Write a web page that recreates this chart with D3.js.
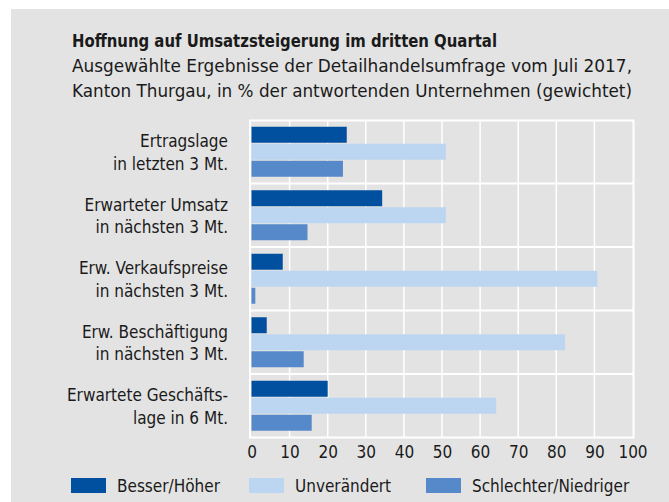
<!DOCTYPE html>
<html>
<head>
<meta charset="utf-8">
<script src="https://cdn.jsdelivr.net/npm/d3@7"></script>
<style>
  body { margin: 0; background: #fff; }
  svg text { font-family: "Liberation Sans Narrow", "DejaVu Sans Condensed", "Roboto Condensed", sans-serif; fill: #1a1a1a; }
</style>
</head>
<body>
<svg id="chart"></svg>
<script>
// data
var categories = [
  ["Ertragslage", "in letzten 3 Mt."],
  ["Erwarteter Umsatz", "in nächsten 3 Mt."],
  ["Erw. Verkaufspreise", "in nächsten 3 Mt."],
  ["Erw. Beschäftigung", "in nächsten 3 Mt."],
  ["Erwartete Geschäfts-", "lage in 6 Mt."]
];
var seriesNames = ["Besser/Höher", "Unverändert", "Schlechter/Niedriger"];
var besser = [25, 34.3, 8.2, 4.0, 20.0];
var unveraendert = [51, 51, 90.8, 82.3, 64.2];
var schlechter = [24, 14.7, 1.0, 13.7, 15.8];
var xTicks = [0, 10, 20, 30, 40, 50, 60, 70, 80, 90, 100];
var colors = ["#00509f", "#bcd6f1", "#5589c9"];

var W = 669, H = 502;
var svg = d3.select("#chart").attr("width", W).attr("height", H);

svg.append("rect").attr("x", 11).attr("y", 9).attr("width", W - 11).attr("height", H - 9).attr("fill", "#e3e3e3");

// fits a text to a target width (condensed source font)
function fit(sel, w) {
  sel.attr("textLength", w).attr("lengthAdjust", "spacingAndGlyphs");
}

svg.append("text").attr("x", 72).attr("y", 47).attr("font-size", 17).attr("font-weight", "bold")
  .text("Hoffnung auf Umsatzsteigerung im dritten Quartal").call(fit, 425);
svg.append("text").attr("x", 72).attr("y", 72).attr("font-size", 17)
  .text("Ausgewählte Ergebnisse der Detailhandelsumfrage vom Juli 2017,").call(fit, 560);
svg.append("text").attr("x", 72).attr("y", 97).attr("font-size", 17)
  .text("Kanton Thurgau, in % der antwortenden Unternehmen (gewichtet)").call(fit, 560);

var x = d3.scaleLinear().domain([0, 100]).range([251.5, 632.5]);
var y = d3.scaleBand().domain(d3.range(categories.length)).range([120, 437.5]);
var inner = d3.scaleBand().domain(d3.range(3)).range([6.75, y.bandwidth() - 6.75]).paddingInner(0.06);

var rows = categories.map(function(c, i) {
  return { i: i, vals: [besser[i], unveraendert[i], schlechter[i]] };
});

// grid
var grid = svg.append("g");
grid.selectAll(".vg").data(xTicks.slice(1, -1)).enter().append("line")
  .attr("x1", function(d) { return x(d); }).attr("x2", function(d) { return x(d); })
  .attr("y1", 120).attr("y2", 437.5)
  .attr("stroke", "#fff").attr("stroke-width", 1.5);
grid.selectAll(".hg").data(d3.range(1, categories.length)).enter().append("line")
  .attr("x1", 250).attr("x2", 634)
  .attr("y1", function(d) { return y(d); }).attr("y2", function(d) { return y(d); })
  .attr("stroke", "#fff").attr("stroke-width", 2);
svg.append("rect").attr("x", 250).attr("y", 120.5).attr("width", 383.5).attr("height", 317)
  .attr("fill", "none").attr("stroke", "#fff").attr("stroke-width", 2);

// bars
var groups = svg.selectAll(".grp").data(rows).enter().append("g")
  .attr("transform", function(d) { return "translate(0," + y(d.i) + ")"; });
groups.selectAll("rect").data(function(d) { return d.vals; }).enter().append("rect")
  .attr("x", x(0))
  .attr("y", function(d, j) { return inner(j); })
  .attr("width", function(d) { return x(d) - x(0); })
  .attr("height", inner.bandwidth())
  .attr("fill", function(d, j) { return colors[j]; });

// category labels
var labels = svg.selectAll(".lab").data(categories).enter().append("text")
  .attr("text-anchor", "end").attr("font-size", 17)
  .attr("transform", function(d, i) { return "translate(228," + (y(i) + y.bandwidth() / 2) + ")"; });
labels.append("tspan").attr("x", 0).attr("y", -4.5).text(function(d) { return d[0]; });
labels.append("tspan").attr("x", 0).attr("y", 18).text(function(d) { return d[1]; });

// x axis
var xAxis = svg.append("g").attr("transform", "translate(0,437.5)")
  .call(d3.axisBottom(x).tickValues(xTicks).tickSize(0).tickPadding(8).tickFormat(d3.format("d")));
xAxis.select(".domain").remove();
xAxis.selectAll("text").attr("font-size", 17).attr("fill", "#1a1a1a")
  .attr("font-family", "Liberation Sans Narrow, DejaVu Sans Condensed, sans-serif");

// legend
var legX = [71, 249, 426];
var leg = svg.selectAll(".leg").data(seriesNames).enter().append("g")
  .attr("transform", function(d, i) { return "translate(" + legX[i] + ",478)"; });
leg.append("rect").attr("width", 35).attr("height", 15).attr("fill", function(d, i) { return colors[i]; });
leg.append("text").attr("x", 46).attr("y", 14).attr("font-size", 17).text(function(d) { return d; });
</script>
</body>
</html>
